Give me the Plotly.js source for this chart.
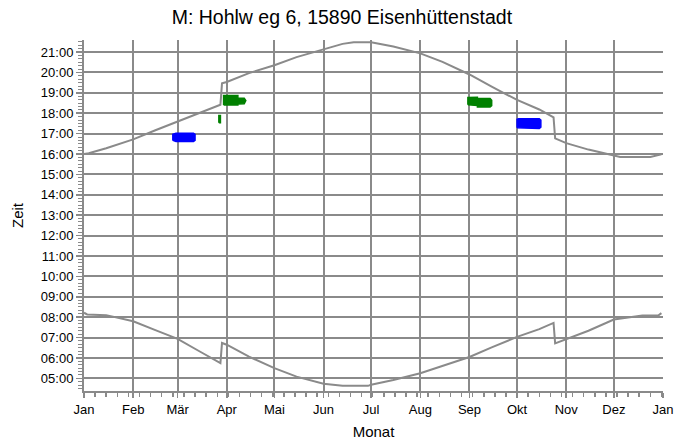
<!DOCTYPE html>
<html><head><meta charset="utf-8">
<script src="https://cdn.plot.ly/plotly-3.0.1.min.js"></script>
<style>html,body{margin:0;padding:0;background:#fff}#chart{width:677px;height:446px}</style>
</head><body><div id="chart"></div>
<script>
// Sonnenuntergang (upper curve)
const sunsetDates = ['2015-01-01','2015-01-04','2015-01-15','2015-02-01','2015-02-15','2015-03-01','2015-03-15','2015-03-28','2015-03-29','2015-04-01','2015-04-15','2015-05-01','2015-05-15','2015-06-01','2015-06-13','2015-06-20','2015-07-01','2015-07-15','2015-08-01','2015-08-15','2015-09-01','2015-09-15','2015-10-01','2015-10-15','2015-10-24','2015-10-25','2015-11-01','2015-11-15','2015-12-01','2015-12-05','2015-12-24','2015-12-31'];
const sunsetTimes = ['16:00','16:02','16:17','16:43','17:10','17:35','18:01','18:25','19:28','19:32','19:58','20:21','20:45','21:09','21:24','21:29','21:29','21:16','20:56','20:31','19:54','19:18','18:39','18:11','17:48','16:46','16:32','16:13','15:55','15:51','15:51','15:59'];
// Sonnenaufgang (lower curve)
const sunriseDates = ['2015-01-01','2015-01-03','2015-01-15','2015-02-01','2015-02-15','2015-03-01','2015-03-15','2015-03-28','2015-03-29','2015-04-01','2015-04-15','2015-05-01','2015-05-15','2015-06-01','2015-06-13','2015-06-29','2015-07-01','2015-07-15','2015-08-01','2015-08-15','2015-09-01','2015-09-15','2015-10-01','2015-10-15','2015-10-24','2015-10-25','2015-11-01','2015-11-15','2015-12-01','2015-12-19','2015-12-29','2015-12-31'];
const sunriseTimes = ['08:13','08:08','08:06','07:48','07:22','06:56','06:19','05:45','06:44','06:39','06:04','05:30','05:05','04:44','04:38','04:38','04:41','04:55','05:15','05:37','06:03','06:31','07:02','07:25','07:43','06:43','06:55','07:20','07:53','08:05','08:05','08:12'];
// Colored periods (outlines)
const blue1Dates = ['2015-02-26','2015-02-26','2015-02-28','2015-03-11','2015-03-12','2015-03-12','2015-03-11','2015-02-28','2015-02-26'];
const blue1Times = ['16:40','16:58','17:01','17:01','16:58','16:40','16:37','16:37','16:40'];
const green1Dates = ['2015-03-30','2015-03-30','2015-04-08','2015-04-08','2015-04-12','2015-04-13','2015-04-12','2015-04-08','2015-04-08','2015-03-30'];
const green1Times = ['18:24','18:52','18:52','18:45','18:44','18:37','18:28','18:27','18:24','18:24'];
const green0Dates = ['2015-03-27','2015-03-27','2015-03-28','2015-03-28','2015-03-27'];
const green0Times = ['17:32','17:53','17:53','17:32','17:32'];
const green2Dates = ['2015-08-31','2015-08-31','2015-09-06','2015-09-06','2015-09-14','2015-09-15','2015-09-15','2015-09-14','2015-09-06','2015-09-06','2015-08-31'];
const green2Times = ['18:25','18:46','18:47','18:44','18:43','18:38','18:22','18:18','18:18','18:23','18:25'];
const blue2Dates = ['2015-10-01','2015-10-01','2015-10-02','2015-10-15','2015-10-16','2015-10-16','2015-10-15','2015-10-02','2015-10-01'];
const blue2Times = ['17:17','17:42','17:44','17:44','17:40','17:19','17:15','17:15','17:17'];
// Axis labels
const monthTicks = ['2015-01-01','2015-02-01','2015-03-01','2015-04-01','2015-05-01','2015-06-01','2015-07-01','2015-08-01','2015-09-01','2015-10-01','2015-11-01','2015-12-01','2016-01-01'];
const monthLabels = ['Jan','Feb','Mär','Apr','Mai','Jun','Jul','Aug','Sep','Okt','Nov','Dez','Jan'];
const hourTicks = [5,6,7,8,9,10,11,12,13,14,15,16,17,18,19,20,21];
const hourLabels = hourTicks.map(h => (h<10?'0':'')+h+':00');

const toH = t => { const p = t.split(':'); return +p[0] + (+p[1])/60; };
const grey = '#8a8a8a';
const lineTrace = (x, t) => ({x: x, y: t.map(toH), type:'scatter', mode:'lines', line:{color:grey, width:2}, hoverinfo:'skip'});
const blob = (x, t, c) => ({x: x, y: t.map(toH), type:'scatter', mode:'lines', fill:'toself', fillcolor:c, line:{color:c, width:1.5}, hoverinfo:'skip'});

const data = [
  lineTrace(sunsetDates, sunsetTimes),
  lineTrace(sunriseDates, sunriseTimes),
  blob(blue1Dates, blue1Times, '#0000ff'),
  blob(green0Dates, green0Times, '#008000'),
  blob(green1Dates, green1Times, '#008000'),
  blob(green2Dates, green2Times, '#008000'),
  blob(blue2Dates, blue2Times, '#0000ff')
];
const font = {family:'"Liberation Sans", Arial, sans-serif', color:'#000'};
const layout = {
  width:677, height:446,
  margin:{l:84, r:14, t:40, b:55},
  paper_bgcolor:'#fff', plot_bgcolor:'#fff',
  showlegend:false,
  font: Object.assign({size:13}, font),
  title:{text:'M: Hohlw eg 6, 15890 Eisenhüttenstadt', font:Object.assign({size:19.5}, font), x:0.505, xanchor:'center', y:0.962, yanchor:'middle'},
  xaxis:{
    type:'date', range:['2015-01-01','2016-01-01'],
    tickmode:'array', tickvals:monthTicks, ticktext:monthLabels,
    ticks:'outside', ticklen:5, tickwidth:1.5, tickcolor:grey,
    showgrid:true, gridcolor:grey, gridwidth:2,
    showline:true, linecolor:grey, linewidth:2,
    zeroline:false, tickfont:{size:13},
    minor:{ticks:'outside', ticklen:4, tickcolor:grey, tickwidth:1.5, dtick:7*86400000, tick0:'2015-01-01', showgrid:false},
    title:{text:'Monat', font:{size:15}, standoff:11}
  },
  yaxis:{
    range:[4.38, 21.59],
    tickmode:'array', tickvals:hourTicks, ticktext:hourLabels,
    ticks:'outside', ticklen:6, tickwidth:1.5, tickcolor:grey,
    showgrid:true, gridcolor:grey, gridwidth:2,
    showline:true, linecolor:grey, linewidth:2,
    zeroline:false, tickfont:{size:13},
    minor:{ticks:'outside', ticklen:4, tickcolor:grey, tickwidth:1, dtick:1/6, tick0:0, showgrid:false},
    title:{text:'Zeit', font:{size:15}, standoff:14}
  }
};
Plotly.newPlot('chart', data, layout, {staticPlot:true, displayModeBar:false});
</script></body></html>
